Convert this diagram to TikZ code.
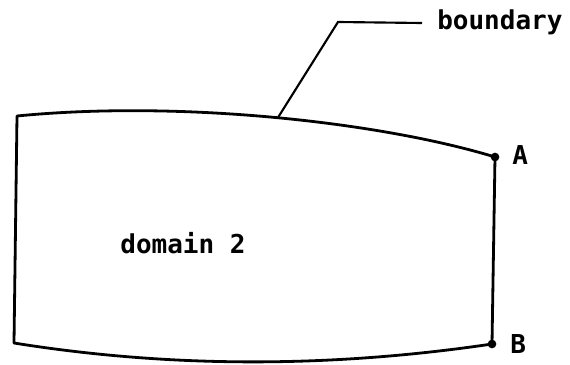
\documentclass[tikz,border=0pt]{standalone}
\usepackage{fontspec}
\newfontfamily\labelfont{DejaVu Sans Mono}
\begin{document}
\begin{tikzpicture}[x=0.75pt,y=-0.75pt,
  edge/.style={line width=2.1pt,line join=round},
  leader/.style={line width=1.6pt},
  lbl/.style={font=\labelfont\bfseries\fontsize{19.5}{22}\selectfont,inner sep=0pt},
  dot/.style={circle,fill=black,inner sep=0pt,minimum size=6.5pt}]
\useasboundingbox (0,0) rectangle (570,364);
\coordinate (TL) at (17,116);
\coordinate (BL) at (14,343);
\node[dot] (A) at (495,157) {};
\node[dot] (B) at (492,344) {};
\draw[edge] (TL) .. controls (180,100) and (380,122) .. (A.center)
  -- (B.center) .. controls (330,368) and (170,368) .. (BL) -- cycle;
\coordinate (P) at (278,117.5);
\coordinate (K) at (338,22);
\coordinate (E) at (422,23);
\node[lbl,anchor=west] (bnd) at (437,22) {boundary};
\draw[leader] (P) -- (K) -- (E);
\node[lbl,anchor=west] (la) at (512,155) {A};
\node[lbl,anchor=west] (lb) at (510,344) {B};
\node[lbl] (dom) at (183,243) {domain 2};
\end{tikzpicture}
\end{document}
